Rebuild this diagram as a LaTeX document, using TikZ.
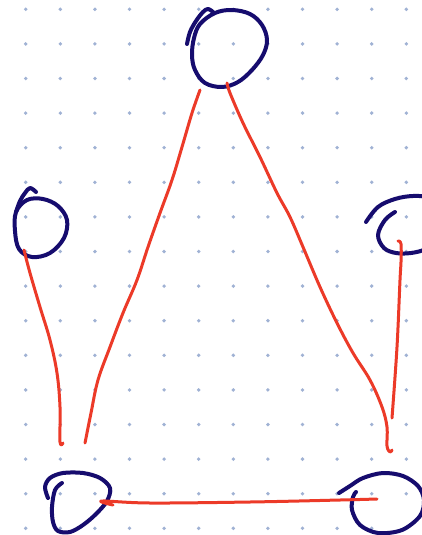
\documentclass[tikz,border=0pt]{standalone}
\usetikzlibrary{calc}
\definecolor{ink}{RGB}{22,12,110}
\definecolor{pen}{RGB}{236,58,40}
\definecolor{dotc}{RGB}{160,178,212}
\begin{document}
\begin{tikzpicture}[x=1pt,y=-1pt,
  circ/.style={draw=ink,line width=4pt,line cap=round,line join=round},
  link/.style={draw=pen,line width=3pt,line cap=round,line join=round},
  griddot/.style={fill=dotc}]
\useasboundingbox (0,0) rectangle (422,535);
\clip (0,0) rectangle (422,535);
\fill[white] (0,0) rectangle (422,535);
% dot grid
\foreach \i in {0,...,11}{
  \foreach \j in {0,...,15}{
    \fill[griddot] ({25.7+34.6*\i},{9.3+34.6*\j}) circle (1.9);
  }
}
% top circle
\draw[circ] plot[smooth,tension=0.6] coordinates {(187,44) (190,32) (196,21) (203,12) (208,9) (213,12)};
\draw[circ] plot[smooth cycle,tension=0.6] coordinates {(215,13) (232,10) (250,14) (262,25) (267,40) (263,55) (252,70) (238,82) (222,87) (205,83) (195,70) (192,55) (194,38) (200,24)};
% left circle
\draw[circ] plot[smooth,tension=0.6] coordinates {(16,212) (20,201) (25,193) (30,188) (36,192)};
\draw[circ] plot[smooth cycle,tension=0.6] coordinates {(27,200) (43,199) (58,206) (67,220) (64,238) (50,253) (32,257) (19,249) (15,231) (16,212)};
% right circle (partly off the page)
\draw[circ] plot[smooth,tension=0.6] coordinates {(366,222) (378,207) (395,199) (413,196) (428,198) (440,210)};
\draw[circ] plot[smooth,tension=0.6] coordinates {(395,212) (385,220) (378,235) (384,248) (396,253) (411,253) (426,249) (438,240)};
% bottom-left circle
\draw[circ] plot[smooth,tension=0.55] coordinates {(48,498) (45,487) (50,478) (63,473) (83,473) (100,478) (110,488) (107,501) (96,514) (83,525) (70,532) (58,531) (53,522) (52,507) (55,490) (62,483)};
% bottom-right circle
\draw[circ] plot[smooth,tension=0.55] coordinates {(339,493) (350,486) (363,478) (383,473) (403,476) (418,486) (424,500) (420,516) (402,530) (378,533) (360,525) (352,510) (353,497) (356,492)};
% connectors
\draw[link] plot[smooth,tension=0.6] coordinates {(200,90) (192,113) (182,147) (172,180) (160,213) (148,247) (137,280) (123,313) (110,347) (98,380) (91,413) (85,443)};
\draw[link] plot[smooth,tension=0.6] coordinates {(227,83) (230,93) (243,123) (260,157) (277,193) (290,217) (303,247) (320,287) (337,323) (353,353) (370,380) (382,407) (387,427) (387,446) (390,452) (392,450)};
\draw[link] plot[smooth,tension=0.6] coordinates {(24,250) (30,273) (40,307) (50,340) (57,373) (60,407) (60,442) (63,443)};
\draw[link] plot[smooth,tension=0.6] coordinates {(398,241) (401,244) (401,262) (400,280) (397,347) (392,418)};
\draw[link] plot[smooth,tension=0.6] coordinates {(113,505) (102,501) (150,503) (250,502) (340,500) (377,499)};
\end{tikzpicture}
\end{document}
